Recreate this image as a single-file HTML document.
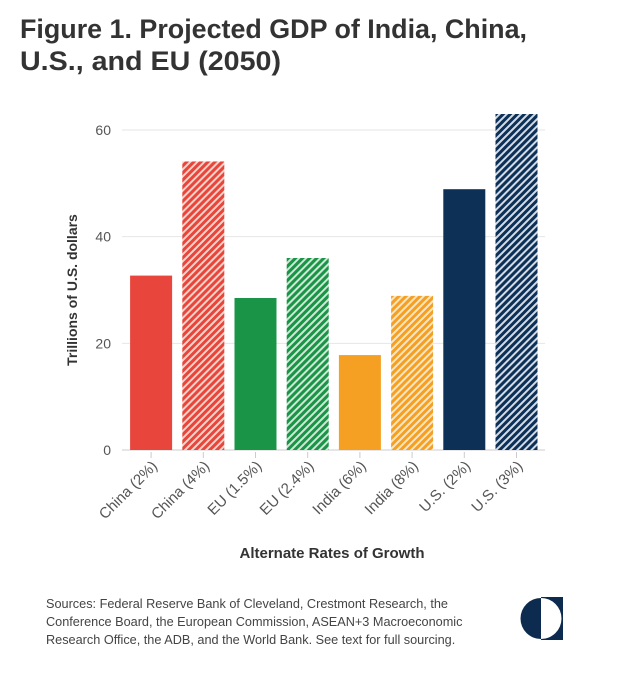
<!DOCTYPE html>
<html><head><meta charset="utf-8"><style>
html,body{margin:0;padding:0;background:#fff;width:624px;height:680px;overflow:hidden}
svg text{font-family:"Liberation Sans",sans-serif}
</style></head><body>
<svg width="624" height="680" viewBox="0 0 624 680" xmlns="http://www.w3.org/2000/svg">
<defs>
<pattern id="hR" width="5" height="5" patternUnits="userSpaceOnUse" patternTransform="rotate(45)"><rect width="5" height="5" fill="#f9d2c8"/><rect width="3" height="5" fill="#e8453c"/></pattern>
<pattern id="hG" width="5" height="5" patternUnits="userSpaceOnUse" patternTransform="rotate(45)"><rect width="5" height="5" fill="#cde8d4"/><rect width="3" height="5" fill="#1a9447"/></pattern>
<pattern id="hO" width="5" height="5" patternUnits="userSpaceOnUse" patternTransform="rotate(45)"><rect width="5" height="5" fill="#fbe6c4"/><rect width="3" height="5" fill="#f5a023"/></pattern>
<pattern id="hB" width="5" height="5" patternUnits="userSpaceOnUse" patternTransform="rotate(45)"><rect width="5" height="5" fill="#d3dbe6"/><rect width="3" height="5" fill="#0d3057"/></pattern>
</defs>
<text x="20" y="38" font-size="26.5" font-weight="bold" fill="#333" textLength="507" lengthAdjust="spacingAndGlyphs">Figure 1. Projected GDP of India, China,</text>
<text x="20" y="70" font-size="26.5" font-weight="bold" fill="#333" textLength="261" lengthAdjust="spacingAndGlyphs">U.S., and EU (2050)</text>
<g id="grid"></g>
<g id="bars"></g>
<g id="xticks"></g>
<text transform="translate(77,290) rotate(-90)" text-anchor="middle" font-size="14" font-weight="bold" fill="#333">Trillions of U.S. dollars</text>
<text x="332" y="558" text-anchor="middle" font-size="15" font-weight="bold" fill="#333">Alternate Rates of Growth</text>
<g font-size="12.7" fill="#444">
<text x="46" y="608">Sources: Federal Reserve Bank of Cleveland, Crestmont Research, the</text>
<text x="46" y="626">Conference Board, the European Commission, ASEAN+3 Macroeconomic</text>
<text x="46" y="644">Research Office, the ADB, and the World Bank. See text for full sourcing.</text>
</g>
<g>
<rect x="541" y="597" width="22" height="43" fill="#0d2a4f"/>
<circle cx="541" cy="618.5" r="20.5" fill="#fff"/>
<path d="M541,598 A20.5,20.5 0 0 0 541,639 Z" fill="#0d2a4f"/>
</g>
<script>
const categories=["China (2%)","China (4%)","EU (1.5%)","EU (2.4%)","India (6%)","India (8%)","U.S. (2%)","U.S. (3%)"];
const values=[32.7,54.1,28.5,36.0,17.8,28.9,48.9,63.0];
const fills=["#e8453c","url(#hR)","#1a9447","url(#hG)","#f5a023","url(#hO)","#0d3057","url(#hB)"];
const yTicks=[0,20,40,60];
const NS="http://www.w3.org/2000/svg";
const x0=125,band=52.2,bw=42,yBase=450,yScale=320/60;
const y=v=>yBase-v*yScale;
const xc=i=>x0+band*i+band/2;
const grid=document.getElementById('grid');
yTicks.forEach(t=>{
  const l=document.createElementNS(NS,'line');
  
  
  l.setAttribute('x1',122);l.setAttribute('x2',545);l.setAttribute('y1',y(t));l.setAttribute('y2',y(t));
  l.setAttribute('stroke',t===0?'#ccc':'#e6e6e6');l.setAttribute('stroke-width',1);
  grid.appendChild(l);
  const tx=document.createElementNS(NS,'text');
  
  
  tx.setAttribute('x',111);tx.setAttribute('y',y(t)+5);tx.setAttribute('text-anchor','end');
  tx.setAttribute('font-size',14);tx.setAttribute('fill','#555');tx.textContent=t;
  grid.appendChild(tx);
});
const bars=document.getElementById('bars'),xt=document.getElementById('xticks');
categories.forEach((c,i)=>{
  const r=document.createElementNS(NS,'rect');
  
  
  r.setAttribute('x',xc(i)-bw/2);r.setAttribute('width',bw);
  r.setAttribute('y',y(values[i]));r.setAttribute('height',yBase-y(values[i]));
  r.setAttribute('fill',fills[i]);
  bars.appendChild(r);
  const tk=document.createElementNS(NS,'line');
  
  
  tk.setAttribute('x1',xc(i));tk.setAttribute('x2',xc(i));tk.setAttribute('y1',452);tk.setAttribute('y2',458);
  tk.setAttribute('stroke','#ccc');
  xt.appendChild(tk);
  const tx=document.createElementNS(NS,'text');
  
  
  tx.setAttribute('text-anchor','end');tx.setAttribute('font-size',15);tx.setAttribute('fill','#555');
  tx.setAttribute('transform','translate('+(xc(i)+7)+',467) rotate(-45)');
  tx.textContent=c;
  xt.appendChild(tx);
});
</script>
</svg>
</body></html>
